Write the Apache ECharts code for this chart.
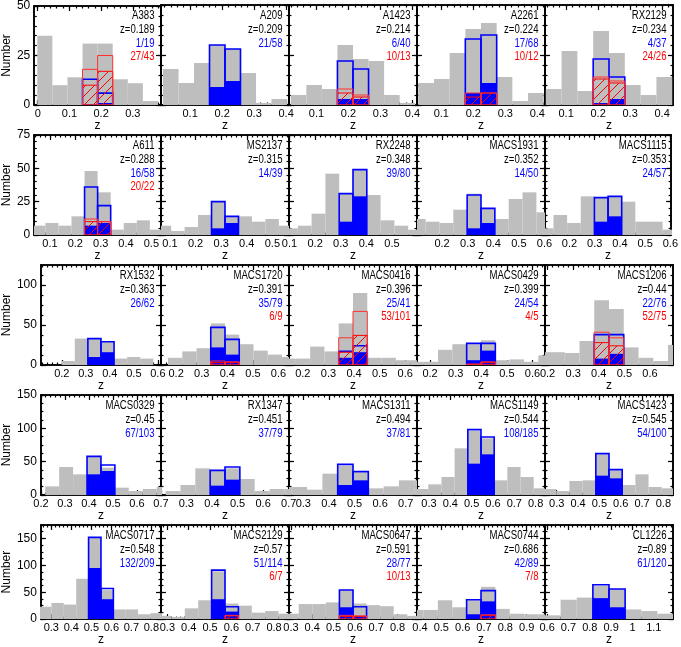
<!DOCTYPE html>
<html><head><meta charset="utf-8">
<script src="https://cdn.jsdelivr.net/npm/echarts@6/dist/echarts.min.js"></script>
<style>html,body{margin:0;padding:0;background:#fff}#c{width:681px;height:647px}</style>
</head><body><div id="c"></div>
<script>
// ---------- data ----------
const clusterNames = ['A383','A209','A1423','A2261','RX2129','A611','MS2137','RX2248','MACS1931','MACS1115','RX1532','MACS1720','MACS0416','MACS0429','MACS1206','MACS0329','RX1347','MACS1311','MACS1149','MACS1423','MACS0717','MACS2129','MACS0647','MACS0744','CL1226'];
const zLabels = ['z=0.189','z=0.209','z=0.214','z=0.224','z=0.234','z=0.288','z=0.315','z=0.348','z=0.352','z=0.353','z=0.363','z=0.391','z=0.396','z=0.399','z=0.44','z=0.45','z=0.451','z=0.494','z=0.544','z=0.545','z=0.548','z=0.57','z=0.591','z=0.686','z=0.89'];
const zCluster = [0.189,0.209,0.214,0.224,0.234,0.288,0.315,0.348,0.352,0.353,0.363,0.391,0.396,0.399,0.44,0.45,0.451,0.494,0.544,0.545,0.548,0.57,0.591,0.686,0.89];
const halfRange = [0.2,0.2,0.2,0.2,0.2, 0.25,0.25,0.25,0.25,0.25, 0.25,0.25,0.25,0.25,0.25, 0.25,0.25,0.25,0.3,0.3, 0.3,0.3,0.3,0.3,0.3];
const binWidth = [0.0476,0.0484,0.0486,0.049,0.0494, 0.0515,0.0526,0.0539,0.0541,0.0541, 0.0545,0.0556,0.0558,0.056,0.0576, 0.058,0.058,0.0598,0.0618,0.0618, 0.0619,0.0628,0.0636,0.0674,0.0756];
const firstBin = [-4,-4,-4,-4,-4, -5,-5,-5,-5,-5, -5,-5,-5,-5,-5, -5,-5,-5,-5,-5, -5,-5,-5,-5,-4];
const grayCounts = [
  [35,10,14,31,31,13,11,2],
  [18,11,21,30,28,16,1,3],
  [5,10,8,30,23,22,5,1],
  [11,13,26,38,41,14,2,6],
  [8,27,7,37,26,10,5,14],
  [7,9,7,14,48,32,4,9,11,4],
  [7,3,6,15,25,14,14,10,12,7],
  [5,7,16,46,31,49,30,11,7,4],
  [12,10,9,19,31,20,12,27,32,17],
  [5,15,9,29,28,29,25,10,10,4],
  [0,0,5,33,33,29,8,10,8,0],
  [0,9,17,21,52,38,26,18,13,10],
  [8,8,23,17,52,90,9,9,6,6],
  [4,4,19,26,26,31,6,7,4,12],
  [16,16,15,30,81,70,22,9,5,25],
  [0,13,42,31,58,41,11,6,9,12],
  [0,6,15,40,36,40,24,6,9,9],
  [12,12,8,32,44,34,10,13,22,22],
  [9,16,27,70,96,85,22,42,27,10],
  [9,6,21,22,61,37,15,31,12,10],
  [23,30,27,75,151,54,18,18,9,11],
  [6,4,20,35,89,29,25,12,15,10],
  [10,28,28,31,54,29,26,24,9,6],
  [17,17,35,22,35,60,19,10,9,9],
  [7,36,40,62,56,18,15,10]
];
// the two bins either side of the cluster redshift
const blueOutline = [[13,6],[30,28],[22,18],[33,35],[23,14],[36,22],[25,14],[31,49],[30,20],[28,29],[33,29],[47,32],[17,24],[27,27],[38,38],[58,45],[37,42],[46,35],[98,87],[62,38],[152,57],[91,23],[54,23],[36,53],[64,56]];
const blueFilled  = [[0,1],[9,12],[3,3],[6,11],[1,3],[7,9],[5,9],[10,29],[5,9],[10,14],[10,16],[22,13],[9,16],[6,18],[8,14],[31,36],[14,23],[15,22],[47,61],[29,25],[95,37],[37,14],[22,6],[9,33],[39,22]];
const redOutline  = [[18,25],null,[8,5],[6,6],[14,12],[12,10],null,null,null,null,null,[5,4],[34,67],[1,4],[41,34],null,null,null,null,null,null,[0,7],[7,6],[0,8],null];
const redHatched  = [[10,17],null,[6,4],[4,6],[13,11],[10,10],null,null,null,null,null,[3,3],[16,37],[1,3],[28,24],null,null,null,null,null,null,[0,6],[5,5],[0,7],null];
const blueFrac = ['1/19','21/58','6/40','17/68','4/37','16/58','14/39','39/80','14/50','24/57','26/62','35/79','25/41','24/54','22/76','67/103','37/79','37/81','108/185','54/100','132/209','51/114','28/77','42/89','61/120'];
const redFrac = ['27/43','','10/13','10/12','24/26','20/22','','','','','','6/9','53/101','4/5','52/75','','','','','','','6/7','10/13','7/8',''];
const rowYMax = [50,75,125,150,175];
const rowYTickLabels = [[0,25,50],[0,25,50,75],[0,50,100],[0,50,100,150],[0,50,100,150]];
const rowYMinorStep = [5,5,12.5,12.5,12.5];
const xMajorStep = 0.1, xMinorStep = 0.02;

// ---------- layout / style ----------
const FONT = "'Liberation Sans',Arial,sans-serif";
const PL = 33, PT = 5, PW = 128, PH = 100, RS = 130;
const GRAY = '#bebebe', BLUE = '#0000ff', RED = '#ff0000';

function hatchCanvas() {
  const s = 9, c = document.createElement('canvas');
  c.width = s; c.height = s;
  const g = c.getContext('2d');
  g.strokeStyle = RED; g.lineWidth = 1;
  g.beginPath();
  g.moveTo(0, s); g.lineTo(s, 0);
  g.moveTo(-2, 2); g.lineTo(2, -2);
  g.moveTo(s - 2, s + 2); g.lineTo(s + 2, s - 2);
  g.stroke();
  return c;
}
const HATCH = hatchCanvas();

function vals(a, b, step) {
  const out = [];
  const n0 = Math.ceil((a - 1e-9) / step), n1 = Math.floor((b + 1e-9) / step);
  for (let n = n0; n <= n1; n++) out.push(+(n * step).toFixed(4));
  return out;
}
function fmt(v) { return String(+(+v).toFixed(2)); }

function renderItem(params, api) {
  const x0 = api.value(0), x1 = api.value(1), h = api.value(2), kind = api.value(3);
  const p0 = api.coord([x0, 0]), p1 = api.coord([x1, h]);
  const shape = { x: p0[0], y: p1[1], width: p1[0] - p0[0], height: p0[1] - p1[1] };
  let style;
  if (kind === 0) style = { fill: GRAY };
  else if (kind === 1) style = { fill: BLUE };
  else if (kind === 2) style = { fill: 'none', stroke: BLUE, lineWidth: 1.6 };
  else if (kind === 3) style = { fill: { image: HATCH, repeat: 'repeat' }, stroke: RED, lineWidth: 1 };
  else style = { fill: 'none', stroke: '#ff3030', lineWidth: 1 };
  return { type: 'rect', shape, style };
}

const grids = [], xAxes = [], yAxes = [], series = [], graphics = [];
clusterNames.forEach((nm, i) => {
  const row = Math.floor(i / 5), col = i % 5;
  const left = PL + col * PW, top = PT + row * RS;
  grids.push({ left, top, width: PW, height: PH });
  const zc = zCluster[i], R = halfRange[i], w = binWidth[i];
  const xmin = zc - R, xmax = zc + R;
  const xMaj = vals(xmin, xmax, xMajorStep), xMin = vals(xmin, xmax, xMinorStep);
  const ymax = rowYMax[row];
  const yMaj = rowYTickLabels[row], yMin = vals(0, ymax, rowYMinorStep[row]);
  const lineStyle = { color: '#000', width: 1.6 };
  const tickStyle = { color: '#000', width: 1.2 };

  const xi = xAxes.length;
  const mkX = (pos, major, labels) => ({
    gridIndex: i, type: 'value', min: xmin, max: xmax, position: pos,
    axisLine: { show: true, onZero: false, lineStyle },
    axisTick: { show: true, inside: true, length: major ? 5 : 2.5, customValues: major ? xMaj : xMin, lineStyle: tickStyle },
    axisLabel: labels ? { show: true, customValues: xMaj, formatter: fmt, margin: 3, fontFamily: FONT, fontSize: 11, color: '#000', showMinLabel: true, showMaxLabel: true } : { show: false },
    splitLine: { show: false },
    name: labels ? 'z' : '', nameLocation: 'middle', nameGap: 12,
    nameTextStyle: { fontFamily: FONT, fontSize: 12, color: '#000' }
  });
  xAxes.push(mkX('bottom', true, true), mkX('bottom', false, false), mkX('top', true, false), mkX('top', false, false));

  const yi = yAxes.length;
  const mkY = (pos, major, labels) => ({
    gridIndex: i, type: 'value', min: 0, max: ymax, position: pos,
    axisLine: { show: true, onZero: false, lineStyle },
    axisTick: { show: true, inside: true, length: major ? 5 : 2.5, customValues: major ? yMaj : yMin, lineStyle: tickStyle },
    axisLabel: labels ? { show: true, customValues: yMaj, margin: 4, fontFamily: FONT, fontSize: 12, color: '#000', showMinLabel: true, showMaxLabel: true } : { show: false },
    splitLine: { show: false },
    name: labels ? 'Number' : '', nameLocation: 'middle', nameGap: 19, nameRotate: 90,
    nameTextStyle: { fontFamily: FONT, fontSize: 12, color: '#000' }
  });
  yAxes.push(mkY('left', true, col === 0), mkY('left', false, false), mkY('right', true, false), mkY('right', false, false));

  const items = [];
  grayCounts[i].forEach((c, j) => {
    if (c > 0) { const x0 = zc + (firstBin[i] + j) * w; items.push([x0, x0 + w, c, 0]); }
  });
  const pairs = [[blueFilled[i], 1], [blueOutline[i], 2], [redHatched[i], 3], [redOutline[i], 4]];
  pairs.forEach(([arr, kind]) => {
    if (!arr) return;
    arr.forEach((c, j) => {
      if (c > 0) { const x0 = zc + (j - 1) * w; items.push([x0, x0 + w, c, kind]); }
    });
  });
  series.push({ type: 'custom', xAxisIndex: xi, yAxisIndex: yi, clip: true, silent: true, animation: false, renderItem, data: items });

  const tx = left + PW - 6.5;
  const lines = [[nm, '#000'], [zLabels[i], '#000'], [blueFrac[i], BLUE], [redFrac[i], RED]];
  lines.forEach(([t, colr], k) => {
    if (!t) return;
    graphics.push({ type: 'text', silent: true, z: 100, x: tx, y: top + 11 + 13.7 * k, scaleX: 0.8, scaleY: 1,
      style: { text: t, x: 0, y: 0, fill: colr, font: '12px ' + FONT,
        textAlign: 'right', align: 'right', textVerticalAlign: 'middle', verticalAlign: 'middle' } });
  });
});

const chart = echarts.init(document.getElementById('c'), null, { renderer: 'canvas', width: 681, height: 647 });
chart.setOption({
  animation: false, backgroundColor: '#fff',
  grid: grids, xAxis: xAxes, yAxis: yAxes, series, graphic: graphics
});
</script></body></html>
